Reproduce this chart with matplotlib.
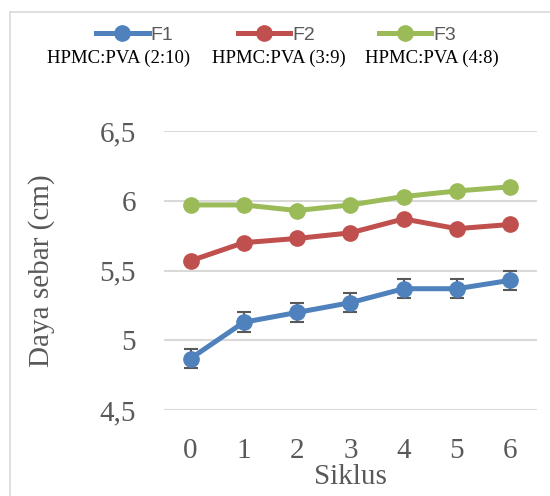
import matplotlib
matplotlib.use('Agg')
import matplotlib.pyplot as plt
from matplotlib.lines import Line2D

# data
siklus = [0, 1, 2, 3, 4, 5, 6]
f1 = [4.87, 5.13, 5.20, 5.27, 5.37, 5.37, 5.43]
f1_err = [0.07, 0.07, 0.07, 0.07, 0.07, 0.07, 0.07]
f2 = [5.57, 5.70, 5.73, 5.77, 5.87, 5.80, 5.83]
f3 = [5.97, 5.97, 5.93, 5.97, 6.03, 6.07, 6.10]
series_names = ['F1', 'F2', 'F3']
sub_labels = ['HPMC:PVA (2:10)', 'HPMC:PVA (3:9)', 'HPMC:PVA (4:8)']
y_ticks = [4.5, 5, 5.5, 6, 6.5]
y_tick_labels = ['4,5', '5', '5,5', '6', '6,5']

colors = ['#4F81BD', '#C0504D', '#9BBB59']
gray = '#595959'
serif = 'Liberation Serif'

fig = plt.figure(figsize=(5.5, 4.96), dpi=100)
ax = fig.add_axes([0.298, 0.173, 0.678, 0.563])

# F1 with error bars
ax.errorbar(siklus, f1, yerr=f1_err, color=colors[0], lw=3.6, marker='o', ms=11,
            ecolor=gray, elinewidth=1.5, capsize=5, capthick=1.5, zorder=3, label=series_names[0])
ax.plot(siklus, f2, color=colors[1], lw=3.6, marker='o', ms=11, zorder=3, label=series_names[1])
ax.plot(siklus, f3, color=colors[2], lw=3.6, marker='o', ms=11, zorder=3, label=series_names[2])

ax.set_xlim(-0.5, 6.5)
ax.set_ylim(4.5, 6.5)
ax.set_yticks(y_ticks)
ax.set_yticklabels(y_tick_labels)
ax.set_xticks(siklus)
ax.yaxis.grid(True, color='#D9D9D9', lw=1.5)
ax.set_axisbelow(True)
for s in ax.spines.values():
    s.set_visible(False)
ax.tick_params(length=0, labelsize=21, labelcolor=gray)
ax.tick_params(axis='y', pad=20)
ax.tick_params(axis='x', pad=20)
for lab in ax.get_xticklabels() + ax.get_yticklabels():
    lab.set_fontfamily(serif)

ax.set_xlabel('Siklus', fontsize=21, color=gray, family=serif, labelpad=0)
ax.set_ylabel('Daya sebar (cm)', fontsize=21, color=gray, family=serif, labelpad=32)

# legend on top
handles = [Line2D([], [], color=c, lw=3.6, marker='o', ms=11) for c in colors]
fig.legend(handles, series_names, loc='center', bbox_to_anchor=(0.502, 0.929), ncol=3,
           frameon=False, handlelength=2.7, handletextpad=0.1, columnspacing=3.3,
           prop={'family': 'Liberation Sans', 'size': 14}, labelcolor=gray)
for x, t in zip([0.215, 0.507, 0.785], sub_labels):
    fig.text(x, 0.883, t, ha='center', va='center', fontsize=13.5, family=serif, color='black')

# chart area border
fig.add_artist(Line2D([0.018, 1.0], [0.976, 0.976], color='#D9D9D9', lw=1.2))
fig.add_artist(Line2D([0.018, 0.018], [0.0, 0.976], color='#D9D9D9', lw=1.2))

plt.savefig('out.png', dpi=100)
